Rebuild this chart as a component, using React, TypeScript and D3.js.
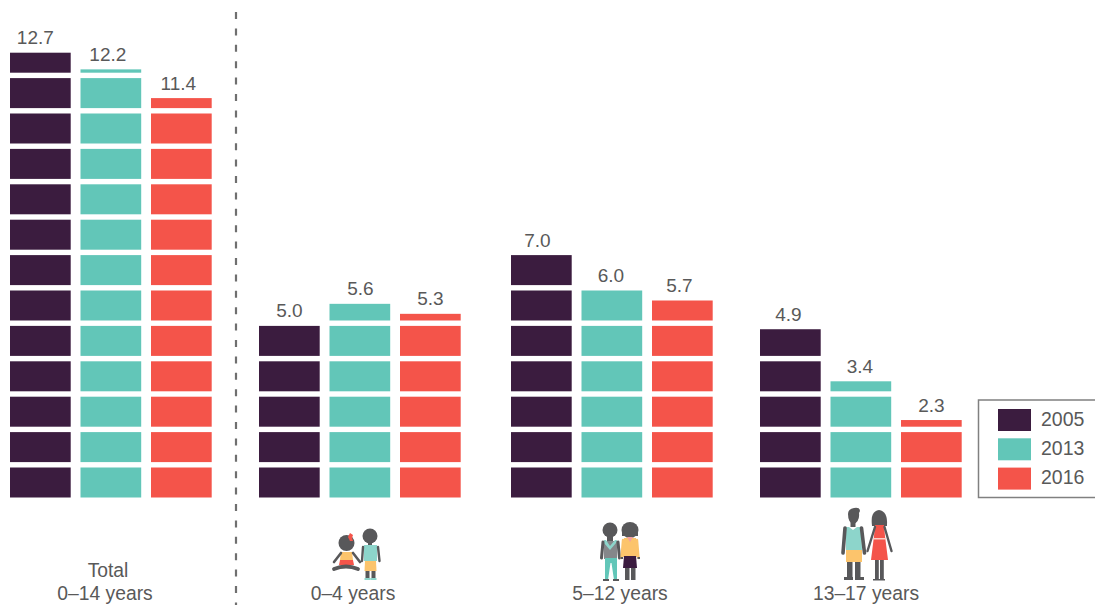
import React from "react";
import * as d3 from "d3";

const groups = ["total", "g0", "g5", "g13"];
const years = ["2005", "2013", "2016"];
const colors = ["#3b1c3f", "#62c6b8", "#f4544a"];
const values2005 = [12.7, 5.0, 7.0, 4.9];
const values2013 = [12.2, 5.6, 6.0, 3.4];
const values2016 = [11.4, 5.3, 5.7, 2.3];
const seriesValues = [values2005, values2013, values2016];
const groupStarts = [10, 259, 511, 760];
const labelLines = [["Total", "0–14 years"], ["0–4 years"], ["5–12 years"], ["13–17 years"]];
const labelCenters = [105, 353, 620, 866];

const SKIN = "#58585a";
const TEAL = "#8dd5cb";
const ORANGE = "#fcc46c";
const RED = "#f4544a";
const PURPLE = "#3b1c3f";

const limb = (d: string, w = 3.2, c = SKIN) => (
  <path d={d} fill="none" stroke={c} strokeWidth={w} strokeLinecap="round" strokeLinejoin="round" />
);

const Icons = () => (
  <g>
    {/* sitting girl */}
    <circle cx={346.500} cy={543} r={8} fill={SKIN} />
    <path d="M348 537l2-4 3 2-1 3 1 3-3 0z" fill={RED} />
    <path d="M341 552h11l1 8h-13z" fill={ORANGE} />
    <path d="M340 560h13l1 5h-15z" fill={RED} />
    {limb("M341 553L334 562", 2.6)}
    {limb("M353 553L360 562", 2.6)}
    {limb("M334 569Q346 564 358 569", 3.8)}
    {/* small boy */}
    <circle cx={370} cy={536} r={7.5} fill={SKIN} />
    <rect x={368} y={541} width={4} height={5} fill={SKIN} />
    <path d="M364 545h13v16h-13z" fill={TEAL} />
    <path d="M365 561h11l.5 10h-12z" fill={ORANGE} />
    {limb("M363 547L362 561", 2.4)}
    {limb("M378 547L379.500 561", 2.4)}
    <rect x={365.500} y={571} width={4} height={7} fill={SKIN} />
    <rect x={371.500} y={571} width={4} height={7} fill={SKIN} />
    <rect x={364.500} y={578} width={6} height={2} fill={TEAL} />
    <rect x={370.500} y={578} width={6} height={2} fill={TEAL} />

    {/* school boy */}
    <circle cx={610} cy={530} r={7.5} fill={SKIN} />
    <rect x={607} y={535} width={6} height={6} fill={SKIN} />
    <path d="M604 541h13v18h-13z" fill="#85878a" />
    <path d="M604 540l2 0 4 6 5-6 2 0-1 3-6 7-6-7z" fill={TEAL} />
    {limb("M603 542L601.500 558", 3)}
    {limb("M618 542L619.500 558", 3)}
    <path d="M605 558h12v22h-3l-2.500-17h-1L608 580h-3z" fill="#62c6b8" />
    <rect x={603} y={579} width={6} height={2} fill={SKIN} />
    <rect x={613} y={579} width={6} height={2} fill={SKIN} />

    {/* school girl */}
    <ellipse cx={630} cy={530} rx={8.500} ry={8} fill={SKIN} />
    <path d="M622 530h16v6h-16z" fill={SKIN} />
    <path d="M624 538h12l1.500 11v8h-15v-8z" fill={ORANGE} />
    <path d="M627 537h6l-3 5z" fill="#f4a0a0" />
    {limb("M623 540L621.500 558", 2.4, ORANGE)}
    {limb("M637 540L638.500 558", 2.4, ORANGE)}
    <rect x={620.500} y={557} width={2.500} height={2} fill={SKIN} />
    <rect x={637.500} y={557} width={2.500} height={2} fill={SKIN} />
    <path d="M624 556h12l1 12h-14z" fill={PURPLE} />
    <rect x={625} y={568} width={4.500} height={12} fill={SKIN} />
    <rect x={631} y={568} width={4.500} height={12} fill={SKIN} />

    {/* teen boy */}
    <path d="M848 514q0-5 6-6 6-1 6 3l-1 2q1 9-6 11-5-2-5-10z" fill={SKIN} />
    <rect x={850.500} y={522} width={5} height={5} fill={SKIN} />
    <path d="M846 527h3l4 3 4-3h4l1 23h-16z" fill={TEAL} />
    {limb("M845 528L843 553", 3.6)}
    {limb("M861.500 528L864.500 553", 3.6)}
    <path d="M846 550h16v12h-16z" fill={ORANGE} />
    <rect x={847} y={562} width={5.500} height={15} fill={SKIN} />
    <rect x={855} y={562} width={5.500} height={15} fill={SKIN} />
    <rect x={844} y={577} width={9} height={3} fill={SKIN} />
    <rect x={855} y={577} width={9} height={3} fill={SKIN} />

    {/* teen girl */}
    <path d="M872 526q-2-15 7-16 9 1 8 16z" fill={SKIN} />
    <path d="M875 525h9l1 11 3 24h-17l3-24z" fill={RED} />
    <rect x={873} y={538} width={13} height={1.500} fill="#fbd0c8" />
    {limb("M875 527L867.500 551", 2.4)}
    {limb("M884.500 527L891.500 551", 2.4)}
    <rect x={875} y={560} width={3.800} height={19} fill={SKIN} />
    <rect x={880} y={560} width={3.800} height={19} fill={SKIN} />
    <rect x={873} y={579} width={12} height={1.500} fill={SKIN} />
  </g>
);

export default function App() {
  const baseY = 497.5;
  const unit = 35.4;
  const blockH = 30;
  const barW = 60.7;
  const y = d3.scaleLinear().domain([0, 13]).range([baseY, baseY - 13 * unit]);
  const partial = d3.scaleLinear().domain([0.1, 1]).range([0, blockH]);
  const groupX = d3.scaleOrdinal<string, number>().domain(groups).range(groupStarts);
  const seriesX = d3.scalePoint<string>().domain(years).range([0, 141]);
  const font = "'Liberation Sans', Arial, sans-serif";
  // the labels sit a little left of their bars in the first, third and fourth groups
  const labelNudge = (gi: number, si: number) =>
    [[-5, -3, -3], [0, 0.5, 0], [-4, -1, -3], [-2, -1, 0]][gi][si];

  return (
    <svg
      width={1095}
      height={605}
      style={{ position: "absolute", left: 0, top: 0, background: "#fff" }}
      fontFamily={font}
    >
      {groups.map((g, gi) =>
        years.map((yr, si) => {
          const v = seriesValues[si][gi];
          const whole = Math.floor(v + 1e-9);
          const frac = +(v - whole).toFixed(2);
          const x = (groupX(g) as number) + (seriesX(yr) as number);
          const partH = frac > 0 ? partial(frac) : 0;
          const top = frac > 0 ? y(whole) - partH : y(whole - 1) - blockH;
          return (
            <g key={g + yr}>
              {d3.range(whole).map((i) => (
                <rect key={i} x={x} y={y(i) - blockH} width={barW} height={blockH} fill={colors[si]} />
              ))}
              {frac > 0 && <rect x={x} y={top} width={barW} height={partH} fill={colors[si]} />}
              <text
                x={x + barW / 2 + labelNudge(gi, si)}
                y={top - 8.5}
                textAnchor="middle"
                fontSize={19}
                fill="#595959"
              >
                {v.toFixed(1)}
              </text>
            </g>
          );
        })
      )}

      <line x1={236} x2={236} y1={12} y2={605} stroke="#6f6f6f" strokeWidth={2.2} strokeDasharray="7 9.4" />

      {labelLines.map((lines, i) =>
        lines.map((t, j) => (
          <text
            key={t}
            x={labelCenters[i] + (j === 0 && lines.length === 2 ? 3 : 0)}
            y={600 - (lines.length - 1 - j) * 23}
            textAnchor="middle"
            fontSize={19.3}
            fill="#595959"
          >
            {t}
          </text>
        ))
      )}

      <Icons />

      <rect x={978.500} y={400} width={130} height={97.500} fill="#fff" stroke="#808080" strokeWidth={1.5} />
      {years.map((yr, i) => (
        <g key={yr}>
          <rect x={998} y={409 + i * 29.300} width={33} height={22} fill={colors[i]} />
          <text x={1041} y={425.500 + i * 29.300} fontSize={19.5} fill="#595959">
            {yr}
          </text>
        </g>
      ))}
    </svg>
  );
}
